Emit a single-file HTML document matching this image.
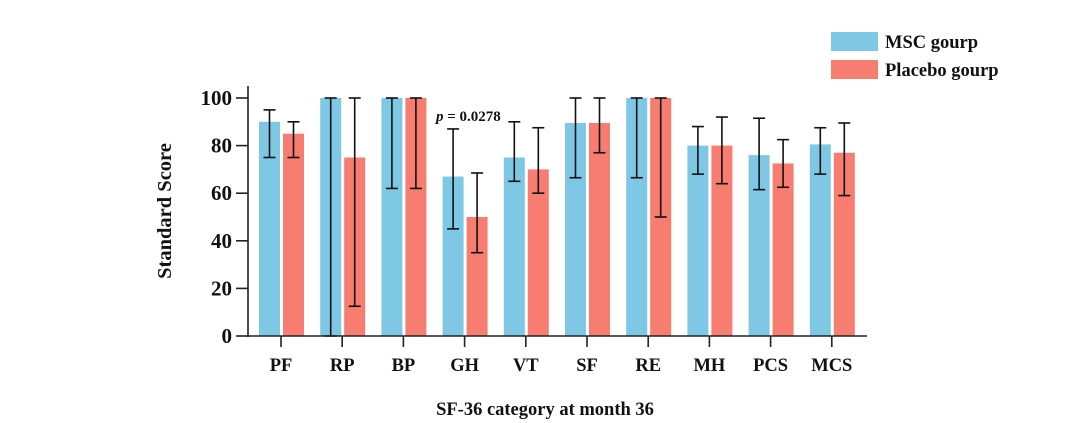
<!DOCTYPE html>
<html><head><meta charset="utf-8"><style>
html,body{margin:0;padding:0;background:#fff;}
svg{display:block;font-family:"Liberation Serif",serif;font-weight:bold;}
</style></head><body>
<svg id="chart" width="1080" height="423" viewBox="0 0 1080 423">
<g id="legend">
<rect x="831" y="32" width="47" height="19" fill="#7ec8e6"/>
<text x="885" y="48" font-size="18.5" fill="#111">MSC gourp</text>
<rect x="831" y="60" width="47" height="19" fill="#f77d70"/>
<text x="885" y="76" font-size="18.5" fill="#111">Placebo gourp</text>
</g>
<text transform="translate(171,211) rotate(-90)" text-anchor="middle" font-size="20.5" fill="#111">Standard Score</text>
<text x="545" y="415" text-anchor="middle" font-size="18.5" fill="#111">SF-36 category at month 36</text>
<text x="436" y="121" font-size="15" fill="#111"><tspan font-style="italic">p</tspan> = 0.0278</text>
</svg>
<script>
const categories=["PF","RP","BP","GH","VT","SF","RE","MH","PCS","MCS"];
const mscValues=[90,100,100,67,75,89.5,100,80,76,80.5];
const mscLow=[75,0,62,45,65,66.5,66.5,68,61.5,68];
const mscHigh=[95,100,100,87,90,100,100,88,91.5,87.5];
const placeboValues=[85,75,100,50,70,89.5,100,80,72.5,77];
const placeboLow=[75,12.5,62,35,60,77,50,64,62.5,59];
const placeboHigh=[90,100,100,68.5,87.5,100,100,92,82.5,89.5];
const yTicks=[0,20,40,60,80,100];

const svg=document.getElementById('chart');
const NS='http://www.w3.org/2000/svg';
const y0=336,y100=98,xFirst=281,step=61.2,barW=21;
function yScale(v){return y0-(v/100)*(y0-y100);}
function xScale(i){return xFirst+i*step;}
function mk(tag,attrs){const e=document.createElementNS(NS,tag);for(const k in attrs)e.setAttribute(k,attrs[k]);svg.appendChild(e);return e;}

categories.forEach((c,i)=>{
  const cx=xScale(i);
  let b=mk('rect',{x:cx-22,y:yScale(mscValues[i]),width:barW,height:y0-yScale(mscValues[i]),fill:'#7ec8e6'});
  
  
  let r=mk('rect',{x:cx+2,y:yScale(placeboValues[i]),width:barW,height:y0-yScale(placeboValues[i]),fill:'#f77d70'});
  
  
});
function err(x,lo,hi,name){
  const g=document.createElementNS(NS,'g');
  
  
  g.setAttribute('stroke','#111');g.setAttribute('stroke-width','1.6');
  const l=(a)=>{const e=document.createElementNS(NS,'line');for(const k in a)e.setAttribute(k,a[k]);g.appendChild(e);};
  l({x1:x,x2:x,y1:yScale(lo),y2:yScale(hi)});
  l({x1:x-6,x2:x+6,y1:yScale(lo),y2:yScale(lo)});
  l({x1:x-6,x2:x+6,y1:yScale(hi),y2:yScale(hi)});
  svg.appendChild(g);
}
categories.forEach((c,i)=>{
  const cx=xScale(i);
  err(cx-11.5,mscLow[i],mscHigh[i],'error-bar-msc-'+c.toLowerCase());
  err(cx+12.5,placeboLow[i],placeboHigh[i],'error-bar-placebo-'+c.toLowerCase());
});
let ya=mk('line',{x1:248,x2:248,y1:86,y2:337,stroke:'#222','stroke-width':1.6});


let xa=mk('line',{x1:247,x2:867,y1:336,y2:336,stroke:'#222','stroke-width':1.6});


yTicks.forEach(t=>{
  const yy=yScale(t);
  let tk=mk('line',{x1:236,x2:248,y1:yy,y2:yy,stroke:'#222','stroke-width':1.6});
  
  
  let tx=mk('text',{x:232,y:yy+7,'text-anchor':'end','font-size':21,fill:'#111'});
  tx.textContent=t;
  
  
});
categories.forEach((c,i)=>{
  const cx=xScale(i);
  let tk=mk('line',{x1:cx,x2:cx,y1:336,y2:347,stroke:'#222','stroke-width':1.6});
  
  
  let tx=mk('text',{x:cx,y:371,'text-anchor':'middle','font-size':18.5,fill:'#111'});
  tx.textContent=c;
  
  
});
</script>
</body></html>
